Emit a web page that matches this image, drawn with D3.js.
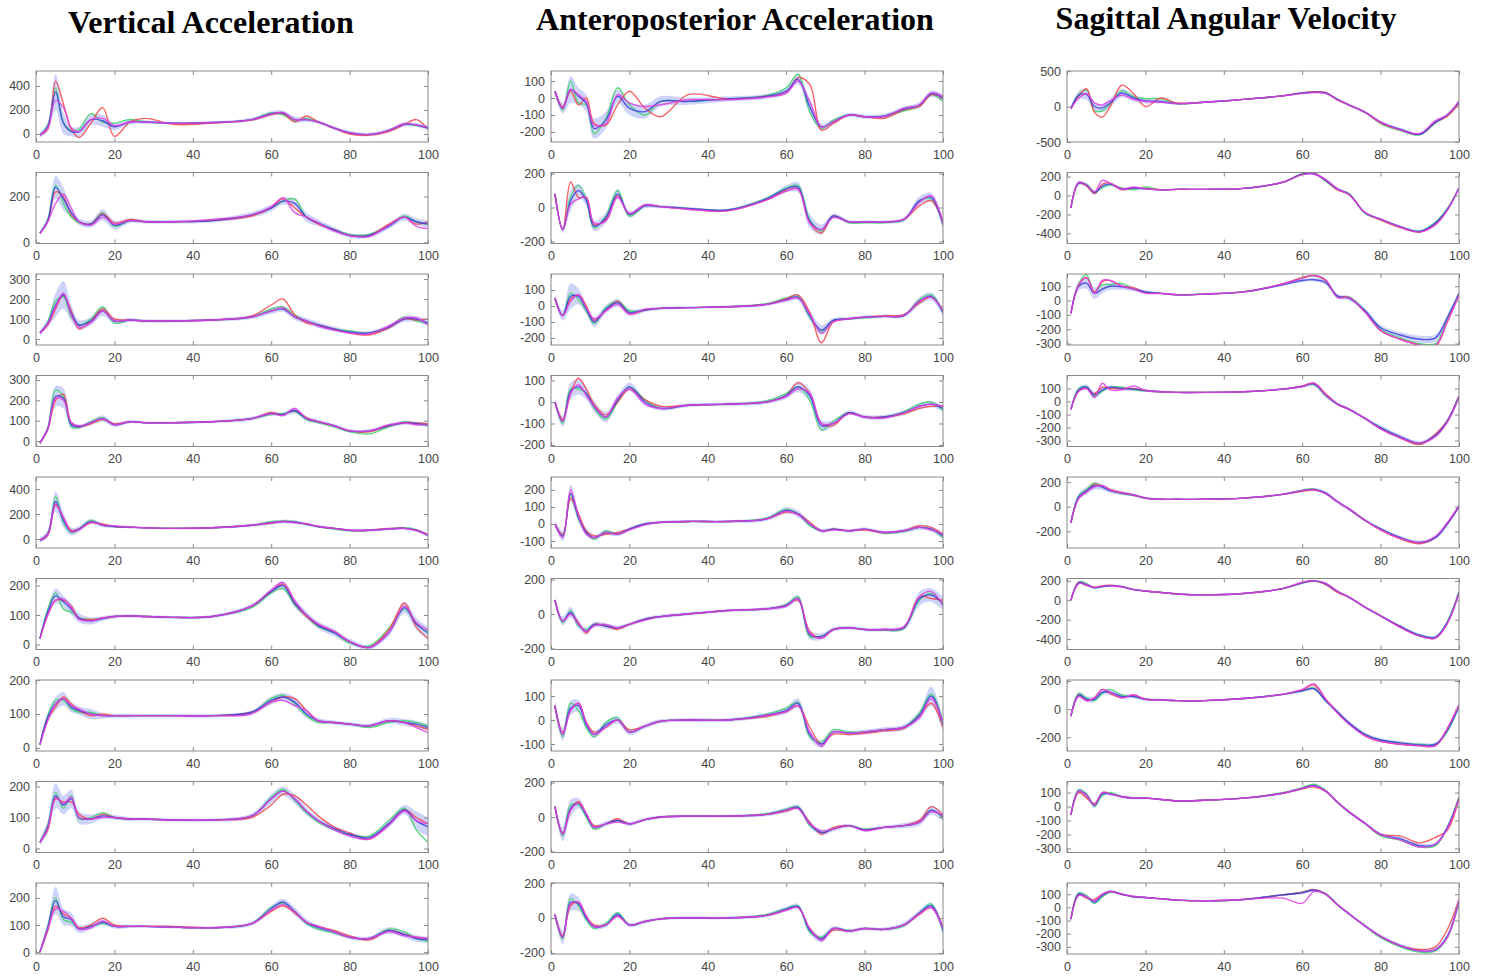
<!DOCTYPE html>
<html>
<head>
<meta charset="utf-8">
<script src="https://cdn.jsdelivr.net/npm/d3@7"></script>
<style>
  body { margin: 0; background: #fff; }
  .tick text { font-family: "Liberation Sans", Arial, sans-serif; font-size: 12.5px; fill: #444; }
  .tick line { stroke: #8a8a8a; }
  .title { font-family: "Liberation Serif", "Times New Roman", serif; font-weight: bold; font-size: 32px; fill: #000; }
</style>
</head>
<body>
<svg id="chart"></svg>
<script>
// gait cycle (%) sample positions shared by every panel
const xKnots = [1, 3, 5, 7, 9, 11, 14, 17, 20, 24, 28, 35, 45, 55, 60, 63, 66, 69, 72, 76, 80, 85, 90, 94, 97, 100];
const xTicks = [0, 20, 40, 60, 80, 100];
const titles = ["Vertical Acceleration", "Anteroposterior Acceleration", "Sagittal Angular Velocity"];

// ---- Vertical Acceleration ----
const vertDomains = [[-67, 525], [-5, 305], [-30, 325], [-27, 322], [-72, 496], [-17, 224], [-9, 200], [-13, 216], [-7, 255]];
const vertTicks = [[0, 200, 400], [0, 200], [0, 100, 200, 300], [0, 100, 200, 300], [0, 200, 400], [0, 100, 200], [0, 100, 200], [0, 100, 200], [0, 100, 200]];
const vertMean = [
  [-10, 60, 350, 90, 20, 20, 120, 110, 60, 100, 100, 90, 95, 120, 170, 175, 120, 120, 100, 50, 10, -5, 30, 80, 75, 50],
  [40, 95, 240, 190, 130, 90, 80, 120, 75, 95, 90, 90, 95, 120, 150, 180, 170, 110, 85, 55, 30, 30, 70, 110, 90, 80],
  [30, 80, 170, 220, 130, 70, 90, 140, 90, 95, 90, 90, 95, 110, 140, 150, 110, 90, 70, 50, 35, 30, 60, 100, 100, 80],
  [-10, 60, 220, 210, 80, 70, 90, 110, 80, 95, 90, 90, 95, 110, 135, 130, 150, 110, 95, 75, 50, 50, 75, 90, 85, 80],
  [-10, 40, 300, 150, 60, 80, 140, 110, 100, 95, 90, 85, 90, 110, 130, 140, 135, 120, 100, 85, 70, 70, 80, 85, 70, 30],
  [20, 110, 165, 145, 120, 90, 80, 88, 95, 97, 95, 92, 95, 130, 180, 200, 140, 100, 65, 40, 10, -10, 40, 125, 70, 40],
  [10, 90, 130, 145, 120, 110, 100, 95, 95, 95, 95, 95, 95, 105, 140, 150, 135, 100, 80, 75, 70, 65, 80, 75, 70, 60],
  [20, 70, 170, 140, 160, 100, 95, 105, 100, 95, 95, 92, 92, 105, 160, 185, 160, 120, 90, 65, 45, 35, 80, 125, 90, 70],
  [0, 90, 190, 130, 120, 85, 95, 110, 95, 95, 95, 92, 90, 105, 160, 185, 150, 110, 90, 75, 55, 50, 80, 65, 50, 45]
];
const vertSd = [
  [20, 40, 150, 90, 40, 40, 45, 50, 30, 20, 15, 10, 10, 15, 20, 20, 25, 20, 15, 15, 15, 15, 15, 20, 15, 20],
  [10, 15, 50, 50, 20, 15, 15, 25, 20, 10, 8, 8, 8, 12, 15, 15, 20, 20, 15, 12, 10, 10, 12, 15, 15, 15],
  [15, 20, 60, 70, 40, 25, 20, 25, 15, 10, 8, 8, 8, 10, 15, 15, 15, 15, 15, 12, 10, 10, 12, 15, 15, 15],
  [10, 15, 50, 50, 20, 10, 12, 15, 10, 8, 6, 6, 6, 10, 10, 10, 15, 12, 10, 8, 8, 8, 10, 10, 10, 10],
  [20, 30, 80, 60, 30, 25, 20, 15, 12, 10, 8, 8, 8, 12, 15, 15, 15, 12, 10, 10, 10, 10, 10, 12, 12, 15],
  [10, 15, 25, 20, 20, 15, 12, 8, 6, 6, 5, 5, 5, 8, 10, 15, 15, 12, 12, 12, 10, 8, 12, 20, 20, 20],
  [10, 15, 20, 20, 15, 12, 15, 8, 6, 6, 5, 5, 5, 6, 12, 12, 15, 12, 8, 6, 6, 6, 8, 10, 10, 10],
  [10, 20, 40, 30, 30, 20, 15, 10, 8, 6, 5, 5, 5, 8, 15, 15, 15, 12, 10, 8, 8, 8, 12, 15, 30, 30],
  [10, 20, 50, 30, 25, 15, 12, 10, 8, 6, 5, 5, 5, 8, 12, 12, 15, 12, 10, 8, 8, 8, 12, 12, 12, 12]
];
const vertRed = [
  [-10, 40, 440, 250, 40, -30, 90, 220, -20, 100, 130, 80, 90, 115, 160, 170, 100, 150, 100, 50, 0, -10, 20, 80, 120, 40],
  [40, 90, 220, 200, 120, 90, 80, 125, 85, 100, 90, 90, 95, 115, 150, 190, 150, 110, 80, 55, 30, 30, 80, 110, 80, 90],
  [30, 70, 150, 220, 140, 50, 90, 150, 100, 95, 90, 90, 95, 115, 170, 200, 120, 80, 70, 50, 30, 20, 55, 100, 95, 100],
  [-10, 55, 200, 230, 90, 70, 85, 105, 85, 95, 90, 90, 95, 110, 140, 130, 150, 115, 95, 75, 50, 45, 75, 90, 90, 85],
  [-10, 30, 270, 170, 70, 80, 130, 120, 100, 95, 90, 85, 90, 110, 125, 140, 135, 120, 100, 85, 70, 70, 85, 85, 70, 35],
  [20, 100, 150, 150, 130, 90, 85, 90, 95, 97, 95, 92, 95, 130, 180, 205, 140, 95, 65, 45, 10, -10, 50, 140, 60, 20],
  [10, 85, 120, 150, 130, 110, 95, 100, 95, 95, 95, 95, 95, 105, 135, 150, 145, 110, 80, 75, 70, 65, 80, 75, 65, 55],
  [20, 60, 160, 150, 150, 110, 95, 110, 100, 95, 95, 92, 92, 100, 140, 175, 170, 140, 105, 70, 50, 30, 80, 125, 100, 80],
  [0, 80, 170, 140, 125, 90, 100, 125, 100, 95, 95, 95, 90, 105, 150, 170, 145, 110, 95, 80, 60, 45, 80, 65, 55, 50]
];
const vertGreen = [
  [-10, 70, 380, 100, 30, 40, 170, 100, 90, 120, 100, 90, 95, 120, 175, 160, 110, 130, 100, 50, 10, -5, 30, 80, 70, 50],
  [40, 100, 250, 170, 110, 85, 80, 130, 70, 95, 90, 90, 95, 120, 150, 180, 190, 110, 85, 55, 35, 35, 75, 115, 90, 80],
  [30, 85, 190, 210, 110, 70, 100, 160, 80, 95, 90, 90, 95, 110, 150, 160, 120, 90, 70, 50, 40, 30, 60, 110, 90, 80],
  [-10, 65, 250, 220, 70, 65, 95, 115, 80, 95, 90, 90, 95, 110, 130, 135, 145, 105, 90, 70, 45, 35, 70, 95, 85, 75],
  [-10, 45, 340, 130, 50, 80, 150, 110, 100, 95, 90, 85, 90, 110, 140, 145, 140, 115, 95, 80, 65, 70, 80, 90, 75, 30],
  [20, 120, 175, 120, 110, 90, 85, 88, 95, 97, 95, 92, 95, 125, 175, 190, 135, 95, 60, 40, 5, -5, 55, 120, 70, 40],
  [10, 95, 140, 140, 115, 105, 105, 95, 95, 95, 95, 95, 95, 105, 145, 155, 130, 95, 75, 75, 70, 60, 75, 80, 75, 65],
  [20, 75, 180, 130, 170, 95, 100, 115, 100, 95, 95, 92, 92, 105, 165, 190, 155, 115, 85, 60, 45, 40, 90, 130, 60, 20],
  [0, 95, 200, 120, 110, 85, 95, 105, 95, 95, 95, 92, 90, 105, 165, 180, 150, 105, 85, 70, 55, 50, 85, 75, 50, 40]
];
const vertMagenta = [
  [-10, 50, 280, 220, 50, 20, 120, 130, 70, 100, 100, 90, 95, 120, 165, 180, 120, 120, 100, 50, 10, -5, 30, 85, 75, 55],
  [40, 90, 170, 210, 150, 90, 75, 110, 80, 95, 90, 90, 100, 120, 155, 195, 130, 110, 85, 50, 30, 25, 75, 110, 70, 60],
  [30, 75, 160, 230, 120, 60, 80, 140, 90, 95, 90, 90, 95, 110, 140, 155, 110, 90, 65, 45, 30, 25, 65, 105, 105, 70],
  [-10, 60, 210, 200, 90, 75, 90, 110, 80, 95, 90, 90, 95, 110, 135, 125, 160, 110, 95, 75, 50, 50, 80, 90, 80, 80],
  [-10, 40, 280, 170, 60, 75, 135, 110, 105, 95, 90, 85, 90, 110, 130, 140, 130, 120, 100, 85, 70, 70, 80, 85, 70, 30],
  [20, 100, 150, 155, 125, 85, 80, 90, 95, 97, 95, 92, 95, 130, 185, 210, 150, 100, 70, 45, 10, -10, 40, 130, 75, 50],
  [10, 80, 130, 145, 125, 115, 100, 95, 95, 95, 95, 95, 95, 100, 135, 140, 125, 110, 80, 75, 70, 65, 80, 75, 60, 45],
  [20, 65, 165, 145, 165, 100, 95, 100, 100, 95, 95, 92, 92, 105, 160, 185, 160, 120, 90, 60, 40, 30, 75, 120, 90, 80],
  [0, 85, 160, 150, 125, 85, 90, 115, 95, 95, 95, 92, 90, 105, 155, 175, 150, 110, 95, 75, 55, 50, 75, 60, 55, 50]
];

// ---- Anteroposterior Acceleration ----
const apDomains = [[-259, 159], [-212, 206], [-244, 200], [-207, 123], [-141, 276], [-206, 206], [-129, 167], [-206, 206], [-206, 200]];
const apTicks = [[-200, -100, 0, 100], [-200, 0, 200], [-200, -100, 0, 100], [-200, -100, 0, 100], [-100, 0, 100, 200], [-200, 0, 200], [-100, 0, 100], [-200, 0, 200], [-200, 0, 200]];
const apMean = [
  [40, -60, 50, 10, -30, -180, -130, 10, -60, -80, -20, -20, -5, 10, 40, 110, -50, -170, -140, -100, -110, -105, -65, -40, 25, 0],
  [80, -130, 40, 100, 40, -110, -60, 80, -40, 10, 5, -5, -15, 50, 110, 120, -80, -130, -50, -85, -85, -85, -70, 40, 60, -100],
  [50, -60, 60, 60, -20, -100, -20, 20, -40, -25, -15, -10, -5, 10, 40, 55, -60, -150, -90, -80, -70, -65, -60, 30, 60, -40],
  [0, -90, 50, 70, 40, -20, -70, 10, 70, 0, -30, -15, -10, 0, 30, 70, 30, -110, -100, -50, -70, -70, -50, -20, -10, -30],
  [0, -70, 180, 40, -50, -80, -50, -60, -30, 0, 10, 15, 15, 30, 80, 60, 0, -40, -30, -40, -30, -50, -40, -20, -30, -70],
  [80, -40, 10, -60, -100, -60, -70, -80, -60, -30, -15, 0, 20, 30, 50, 90, -120, -130, -90, -80, -90, -90, -80, 90, 110, 60],
  [60, -60, 50, 60, -20, -60, -20, 0, -50, -25, -5, 0, 0, 20, 40, 70, -60, -100, -50, -55, -50, -40, -30, 20, 100, -20],
  [60, -100, 50, 80, 10, -60, -40, -20, -40, -15, 0, 5, 5, 15, 40, 55, -40, -90, -70, -50, -75, -60, -50, -30, 40, 0],
  [20, -110, 90, 80, 0, -50, -40, 20, -40, -20, -5, 0, 0, 15, 50, 65, -70, -120, -60, -75, -60, -65, -40, 30, 70, -70]
];
const apSd = [
  [20, 30, 80, 50, 50, 60, 50, 40, 40, 40, 30, 20, 15, 15, 20, 30, 40, 20, 15, 12, 12, 12, 15, 15, 20, 20],
  [20, 20, 60, 40, 30, 30, 30, 30, 20, 15, 10, 8, 8, 12, 20, 30, 40, 30, 15, 10, 8, 8, 12, 25, 25, 30],
  [20, 30, 80, 50, 30, 30, 25, 25, 20, 12, 10, 8, 8, 10, 15, 20, 30, 30, 15, 10, 10, 10, 12, 25, 25, 25],
  [15, 25, 40, 35, 30, 25, 25, 20, 20, 15, 10, 8, 8, 10, 15, 25, 30, 25, 15, 10, 10, 10, 12, 15, 15, 15],
  [20, 30, 50, 30, 20, 15, 15, 12, 12, 10, 8, 8, 8, 12, 20, 20, 15, 12, 10, 10, 10, 10, 12, 15, 15, 20],
  [20, 25, 30, 25, 20, 15, 15, 12, 10, 10, 10, 8, 8, 10, 15, 20, 25, 20, 12, 10, 10, 10, 15, 40, 40, 40],
  [20, 25, 30, 25, 20, 15, 15, 15, 12, 10, 8, 8, 8, 10, 15, 20, 20, 15, 10, 10, 10, 10, 12, 20, 40, 30],
  [20, 40, 50, 30, 20, 15, 15, 12, 12, 10, 8, 8, 8, 10, 15, 15, 20, 15, 12, 10, 10, 10, 15, 20, 25, 25],
  [20, 40, 50, 40, 20, 15, 15, 15, 12, 10, 8, 8, 8, 10, 15, 15, 20, 20, 12, 10, 10, 10, 15, 15, 20, 25]
];
const apRed = [
  [40, -50, 40, -40, 0, -150, -160, -40, 40, -60, -110, 20, -5, 10, 30, 120, 80, -190, -150, -100, -110, -120, -70, -50, 20, 0],
  [80, -130, 150, 60, 60, -100, -70, 70, -40, 15, 5, -10, -20, 45, 100, 110, -90, -150, -50, -85, -85, -85, -70, 10, 40, -80],
  [50, -60, 40, 70, 0, -90, -30, 30, -50, -25, -15, -10, -5, 10, 45, 70, -40, -230, -100, -80, -70, -60, -55, 20, 55, -30],
  [0, -80, 40, 110, 60, -10, -60, 0, 60, 10, -20, -15, -10, 0, 30, 90, 40, -100, -110, -50, -70, -70, -55, -30, -20, -20],
  [0, -60, 150, 60, -40, -70, -60, -50, -30, 0, 10, 15, 15, 30, 70, 60, 10, -40, -30, -40, -35, -50, -40, -10, -20, -60],
  [80, -40, 0, -50, -110, -60, -70, -90, -60, -30, -15, 0, 20, 30, 50, 80, -100, -140, -90, -80, -90, -90, -80, 100, 90, 80],
  [60, -50, 40, 70, -10, -50, -30, 0, -40, -25, -5, 0, 0, 15, 35, 60, -30, -100, -60, -60, -55, -45, -35, 20, 70, -30],
  [60, -90, 40, 90, 20, -50, -40, -10, -40, -15, 0, 5, 5, 15, 35, 50, -30, -100, -60, -50, -75, -60, -50, -20, 60, 10],
  [20, -100, 70, 90, 10, -40, -40, 10, -40, -20, -5, 0, 0, 15, 45, 60, -60, -120, -70, -75, -60, -65, -40, 20, 60, -50]
];
const apGreen = [
  [40, -70, 100, -30, -40, -210, -120, 60, -40, -100, -20, -20, -5, 15, 60, 140, -80, -180, -130, -100, -110, -110, -75, -50, 20, -20],
  [80, -130, 60, 130, 50, -120, -50, 100, -50, 10, 5, -5, -15, 55, 115, 130, -70, -140, -50, -90, -90, -90, -75, 40, 50, -100],
  [50, -60, 80, 40, -30, -110, -10, 30, -30, -25, -15, -10, -5, 15, 50, 60, -70, -160, -90, -80, -75, -65, -60, 40, 70, -40],
  [0, -100, 60, 60, 40, -30, -80, 0, 70, 10, -30, -15, -10, 5, 40, 70, 10, -130, -90, -50, -70, -70, -45, -10, 0, -40],
  [0, -70, 170, 30, -50, -90, -40, -60, -30, 0, 10, 15, 15, 35, 85, 60, -10, -40, -30, -40, -30, -55, -45, -20, -30, -80],
  [80, -50, 20, -70, -90, -60, -70, -80, -60, -30, -15, 0, 20, 30, 55, 100, -130, -130, -90, -80, -90, -95, -85, 80, 120, 50],
  [60, -70, 70, 40, -30, -70, -10, 10, -50, -25, -5, 0, 0, 25, 50, 75, -70, -90, -40, -50, -50, -40, -30, 30, 110, -10],
  [60, -110, 70, 70, 0, -70, -40, -20, -40, -15, 0, 5, 5, 20, 45, 60, -50, -90, -70, -50, -70, -60, -50, -30, 40, -10],
  [20, -120, 110, 70, -10, -60, -30, 30, -40, -20, -5, 0, 0, 20, 55, 70, -80, -110, -60, -70, -60, -65, -45, 30, 80, -80]
];
const apMagenta = [
  [40, -60, 50, 20, -20, -160, -150, 20, -30, -50, -40, -10, -10, 5, 30, 100, -20, -170, -140, -100, -110, -110, -60, -40, 30, 10],
  [80, -130, 20, 50, 60, -90, -80, 60, -35, 15, 5, -10, -20, 45, 95, 110, -90, -130, -60, -85, -85, -85, -70, 30, 70, -90],
  [50, -60, 30, 70, -10, -80, -30, 10, -50, -20, -15, -10, -5, 10, 35, 50, -50, -170, -100, -80, -70, -65, -60, 30, 55, -30],
  [0, -90, 40, 80, 30, -20, -70, 20, 60, -10, -30, -15, -10, 0, 25, 60, 40, -100, -100, -55, -70, -75, -50, -20, -10, -20],
  [0, -80, 200, 50, -60, -80, -50, -60, -35, -5, 10, 15, 15, 30, 75, 55, 0, -40, -35, -40, -30, -50, -40, -20, -35, -60],
  [80, -40, 0, -60, -100, -70, -60, -80, -60, -35, -15, 0, 20, 30, 45, 90, -110, -140, -90, -80, -90, -90, -75, 100, 130, 50],
  [60, -60, 40, 70, -10, -60, -30, 0, -50, -25, -5, 0, 0, 20, 35, 60, -50, -110, -50, -55, -50, -40, -30, 10, 90, -10],
  [60, -100, 40, 80, 20, -60, -40, -30, -40, -15, 0, 5, 5, 15, 40, 50, -40, -80, -70, -50, -80, -60, -50, -30, 30, 10],
  [20, -110, 80, 90, 10, -50, -40, 10, -40, -20, -5, 0, 0, 15, 45, 60, -60, -130, -60, -75, -60, -65, -40, 25, 60, -60]
];

// ---- Sagittal Angular Velocity ----
const sagDomains = [[-500, 500], [-507, 243], [-310, 185], [-346, 200], [-335, 241], [-507, 224], [-298, 207], [-329, 179], [-354, 185]];
const sagTicks = [[-500, 0, 500], [-400, -200, 0, 200], [-300, -200, -100, 0, 100], [-300, -200, -100, 0, 100], [-200, 0, 200], [-400, -200, 0, 200], [-200, 0, 200], [-300, -200, -100, 0, 100], [-300, -200, -100, 0, 100]];
const sagMean = [
  [-30, 160, 170, 0, -20, 50, 190, 120, 80, 70, 40, 60, 100, 150, 190, 200, 190, 100, 20, -80, -220, -320, -390, -220, -120, 60],
  [-130, 130, 110, 30, 100, 120, 70, 80, 70, 60, 65, 65, 75, 140, 225, 230, 160, 70, 10, -180, -250, -330, -380, -290, -150, 80],
  [-90, 100, 120, 50, 80, 100, 95, 80, 60, 50, 40, 45, 60, 110, 140, 145, 125, 30, 15, -70, -190, -240, -270, -260, -120, 50],
  [-60, 90, 110, 50, 90, 110, 100, 95, 85, 75, 70, 70, 75, 95, 115, 135, 50, -20, -60, -130, -200, -270, -320, -260, -150, 40],
  [-130, 80, 130, 170, 160, 130, 110, 95, 70, 60, 60, 60, 70, 100, 130, 140, 110, 40, -20, -110, -180, -250, -290, -250, -140, 0],
  [0, 180, 160, 130, 140, 150, 140, 110, 95, 80, 65, 55, 70, 120, 180, 200, 170, 90, 30, -70, -160, -270, -360, -380, -230, 80],
  [-50, 100, 70, 70, 120, 120, 90, 90, 70, 65, 60, 60, 75, 105, 130, 145, 60, -20, -100, -180, -220, -240, -255, -250, -150, 20],
  [-60, 110, 80, 10, 90, 90, 70, 60, 60, 50, 40, 45, 60, 95, 130, 150, 110, 30, -40, -120, -200, -230, -280, -270, -150, 60],
  [-90, 100, 80, 40, 90, 120, 100, 80, 75, 65, 55, 50, 60, 95, 110, 130, 100, 20, -50, -140, -220, -290, -330, -320, -220, 50]
];
const sagSd = [
  [20, 60, 80, 60, 60, 60, 60, 50, 40, 25, 15, 10, 10, 10, 12, 15, 15, 15, 20, 20, 20, 20, 20, 25, 25, 20],
  [20, 20, 20, 20, 20, 20, 15, 15, 10, 8, 6, 6, 6, 8, 10, 10, 15, 15, 15, 12, 12, 12, 12, 15, 15, 15],
  [20, 30, 40, 40, 30, 25, 20, 15, 10, 8, 6, 6, 6, 8, 12, 12, 15, 15, 15, 15, 20, 20, 25, 25, 20, 15],
  [20, 20, 20, 25, 20, 15, 15, 12, 10, 8, 6, 6, 6, 8, 10, 15, 15, 12, 12, 12, 15, 15, 15, 15, 15, 15],
  [20, 30, 30, 30, 25, 20, 15, 12, 10, 8, 6, 6, 6, 8, 10, 12, 15, 15, 15, 12, 12, 15, 15, 15, 15, 15],
  [15, 15, 15, 12, 12, 12, 10, 10, 8, 6, 6, 6, 6, 8, 10, 10, 12, 12, 12, 12, 12, 15, 15, 15, 15, 15],
  [20, 20, 20, 20, 20, 20, 15, 12, 10, 8, 6, 6, 6, 8, 10, 12, 15, 15, 15, 12, 12, 12, 15, 15, 20, 20],
  [15, 20, 20, 20, 15, 12, 10, 10, 8, 6, 6, 6, 6, 8, 10, 12, 12, 12, 12, 12, 12, 12, 15, 15, 15, 15],
  [15, 20, 15, 15, 15, 12, 10, 8, 8, 6, 6, 6, 6, 8, 10, 12, 12, 12, 12, 12, 12, 15, 15, 15, 15, 20]
];
const sagRed = [
  [-30, 150, 250, -80, -150, 0, 300, 180, 0, 120, 50, 60, 100, 150, 190, 205, 200, 90, 20, -80, -230, -330, -390, -220, -140, 40],
  [-130, 130, 100, 20, 120, 130, 60, 80, 75, 60, 65, 65, 75, 140, 225, 235, 160, 60, 10, -180, -260, -340, -385, -300, -150, 80],
  [-90, 110, 160, 60, 130, 140, 100, 90, 55, 50, 40, 45, 60, 115, 160, 175, 140, 30, 20, -80, -210, -270, -310, -320, -150, 40],
  [-60, 80, 100, 60, 110, 100, 100, 100, 85, 75, 70, 70, 75, 95, 120, 140, 60, -20, -60, -130, -210, -280, -330, -250, -150, 40],
  [-130, 70, 120, 180, 170, 140, 115, 95, 70, 60, 60, 60, 70, 100, 125, 135, 110, 40, -20, -110, -190, -260, -300, -250, -140, 0],
  [0, 185, 150, 135, 150, 155, 140, 110, 95, 80, 65, 55, 70, 120, 180, 200, 160, 80, 30, -70, -160, -270, -370, -390, -240, 80],
  [-50, 100, 60, 80, 140, 110, 80, 100, 70, 65, 60, 60, 75, 105, 135, 170, 70, -20, -100, -190, -230, -250, -260, -260, -140, 30],
  [-60, 100, 60, 20, 100, 90, 70, 60, 60, 50, 40, 45, 60, 95, 125, 140, 110, 30, -40, -120, -200, -210, -260, -220, -170, 60],
  [-90, 100, 70, 60, 100, 120, 100, 80, 75, 65, 55, 50, 60, 95, 115, 135, 100, 20, -50, -140, -220, -290, -320, -300, -170, 60]
];
const sagGreen = [
  [-30, 170, 230, -60, -60, 40, 220, 140, 110, 110, 40, 60, 100, 150, 195, 205, 190, 100, 20, -80, -240, -340, -400, -230, -120, 60],
  [-130, 130, 120, 40, 80, 110, 80, 60, 90, 60, 65, 65, 75, 140, 230, 240, 150, 60, 20, -190, -250, -330, -375, -280, -140, 80],
  [-90, 120, 180, 60, 110, 110, 120, 80, 60, 50, 40, 45, 60, 115, 160, 170, 140, 30, 25, -70, -200, -260, -300, -300, -130, 50],
  [-60, 100, 115, 40, 80, 110, 110, 90, 80, 75, 70, 70, 75, 95, 115, 130, 40, -20, -60, -130, -200, -280, -330, -260, -150, 40],
  [-130, 90, 140, 190, 160, 130, 105, 90, 70, 60, 60, 60, 70, 100, 135, 145, 110, 40, -20, -110, -180, -250, -290, -250, -140, 10],
  [0, 190, 170, 125, 140, 150, 140, 110, 95, 80, 65, 55, 70, 120, 175, 195, 170, 90, 30, -70, -160, -270, -360, -380, -220, 90],
  [-50, 110, 80, 60, 110, 140, 100, 90, 70, 65, 60, 60, 75, 105, 130, 150, 60, -20, -100, -180, -220, -240, -250, -250, -160, 20],
  [-60, 120, 90, 0, 80, 100, 70, 60, 60, 50, 40, 45, 60, 100, 135, 160, 115, 30, -40, -120, -210, -240, -290, -280, -150, 70],
  [-90, 110, 90, 30, 80, 115, 100, 80, 75, 65, 55, 50, 60, 95, 115, 135, 105, 20, -50, -140, -230, -300, -340, -330, -230, 40]
];
const sagMagenta = [
  [-30, 120, 180, 50, 20, 80, 160, 100, 70, 60, 40, 60, 100, 150, 185, 195, 185, 100, 20, -80, -220, -330, -380, -200, -120, 80],
  [-130, 140, 110, 40, 160, 130, 70, 90, 70, 60, 65, 65, 75, 140, 220, 225, 170, 70, 10, -180, -250, -330, -385, -310, -160, 80],
  [-90, 110, 160, 50, 140, 140, 100, 80, 50, 50, 40, 45, 60, 115, 155, 175, 145, 20, 20, -80, -210, -270, -310, -310, -150, 40],
  [-60, 80, 100, 30, 140, 90, 90, 120, 85, 75, 70, 70, 75, 95, 115, 140, 50, -20, -60, -130, -210, -280, -320, -270, -160, 30],
  [-130, 70, 120, 160, 170, 135, 110, 95, 70, 60, 60, 60, 70, 100, 130, 140, 105, 40, -20, -110, -185, -255, -290, -240, -130, 10],
  [0, 170, 160, 130, 145, 150, 135, 110, 95, 80, 65, 55, 70, 120, 185, 200, 175, 95, 30, -70, -160, -280, -370, -390, -240, 70],
  [-50, 90, 60, 80, 140, 120, 80, 100, 70, 65, 60, 60, 75, 105, 140, 180, 70, -30, -110, -190, -230, -250, -260, -260, -140, 30],
  [-60, 110, 80, 10, 100, 90, 70, 60, 60, 50, 40, 45, 60, 95, 130, 145, 110, 30, -40, -120, -200, -240, -290, -270, -160, 60],
  [-90, 90, 80, 50, 100, 120, 100, 85, 75, 65, 55, 50, 60, 70, 30, 120, 100, 20, -50, -140, -220, -290, -330, -320, -230, 50]
];

const columns = [
  { domains: vertDomains, ticks: vertTicks, mean: vertMean, sd: vertSd, red: vertRed, green: vertGreen, magenta: vertMagenta },
  { domains: apDomains, ticks: apTicks, mean: apMean, sd: apSd, red: apRed, green: apGreen, magenta: apMagenta },
  { domains: sagDomains, ticks: sagTicks, mean: sagMean, sd: sagSd, red: sagRed, green: sagGreen, magenta: sagMagenta }
];

const W = 1486, H = 976;
const colLeft = [36, 551, 1067];
const plotW = 392, plotH = 71;
const rowTop = 71, rowStep = 101.5;
// titles sit a little lower than in the source so the top one is not clipped
const titlePos = [[211, 33], [735, 30], [1226, 29]];

const svg = d3.select("#chart").attr("width", W).attr("height", H);
svg.append("rect").attr("width", W).attr("height", H).attr("fill", "#fff");

titles.forEach((t, i) => {
  svg.append("text").attr("class", "title")
    .attr("x", titlePos[i][0]).attr("y", titlePos[i][1])
    .attr("text-anchor", "middle").text(t);
});

const x = d3.scaleLinear().domain([0, 100]).range([0, plotW]);
const plain = d => String(d); // keep ascii hyphen for negatives

columns.forEach((col, c) => {
  col.domains.forEach((dom, r) => {
    const g = svg.append("g")
      .attr("transform", `translate(${colLeft[c]},${rowTop + r * rowStep})`);
    const y = d3.scaleLinear().domain(dom).range([plotH, 0]);

    const clipId = `clip-${c}-${r}`;
    g.append("clipPath").attr("id", clipId)
      .append("rect").attr("width", plotW).attr("height", plotH);
    const plot = g.append("g").attr("clip-path", `url(#${clipId})`);

    const curve = d3.curveCatmullRom.alpha(0.5);
    const pts = (arr) => arr.map((v, i) => ({ x: xKnots[i], v: v }));

    // shaded band around the mean
    const band = xKnots.map((k, i) => ({ x: k, lo: col.mean[r][i] - col.sd[r][i], hi: col.mean[r][i] + col.sd[r][i] }));
    plot.append("path").datum(band)
      .attr("fill", "#aeb6f6").attr("fill-opacity", 0.6)
      .attr("d", d3.area().curve(curve).x(d => x(d.x)).y0(d => y(d.lo)).y1(d => y(d.hi)));

    const line = d3.line().curve(curve).x(d => x(d.x)).y(d => y(d.v));
    const series = [
      { data: col.green[r], color: "#3fd46a" },
      { data: col.red[r], color: "#f2464b" },
      { data: col.mean[r], color: "#3b3ee0" },
      { data: col.magenta[r], color: "#e23ce0" }
    ];
    series.forEach(s => {
      plot.append("path").datum(pts(s.data))
        .attr("fill", "none").attr("stroke", s.color)
        .attr("stroke-width", 1.4).attr("stroke-opacity", 0.85)
        .attr("d", line);
    });

    // axes: ticks point inward, labels on left and bottom only
    const bottom = g.append("g").attr("transform", `translate(0,${plotH})`)
      .call(d3.axisBottom(x).tickValues(xTicks).tickSizeInner(-4).tickSizeOuter(0).tickPadding(8).tickFormat(plain));
    const top = g.append("g")
      .call(d3.axisTop(x).tickValues(xTicks).tickSizeInner(-4).tickSizeOuter(0).tickFormat(""));
    const left = g.append("g")
      .call(d3.axisLeft(y).tickValues(col.ticks[r]).tickSizeInner(-4).tickSizeOuter(0).tickPadding(6).tickFormat(plain));
    const right = g.append("g").attr("transform", `translate(${plotW},0)`)
      .call(d3.axisRight(y).tickValues(col.ticks[r]).tickSizeInner(-4).tickSizeOuter(0).tickFormat(""));
    [bottom, top, left, right].forEach(a => a.select(".domain").remove());

    g.append("rect").attr("width", plotW).attr("height", plotH)
      .attr("fill", "none").attr("stroke", "#8a8a8a").attr("stroke-width", 1);
  });
});
</script>
</body>
</html>
